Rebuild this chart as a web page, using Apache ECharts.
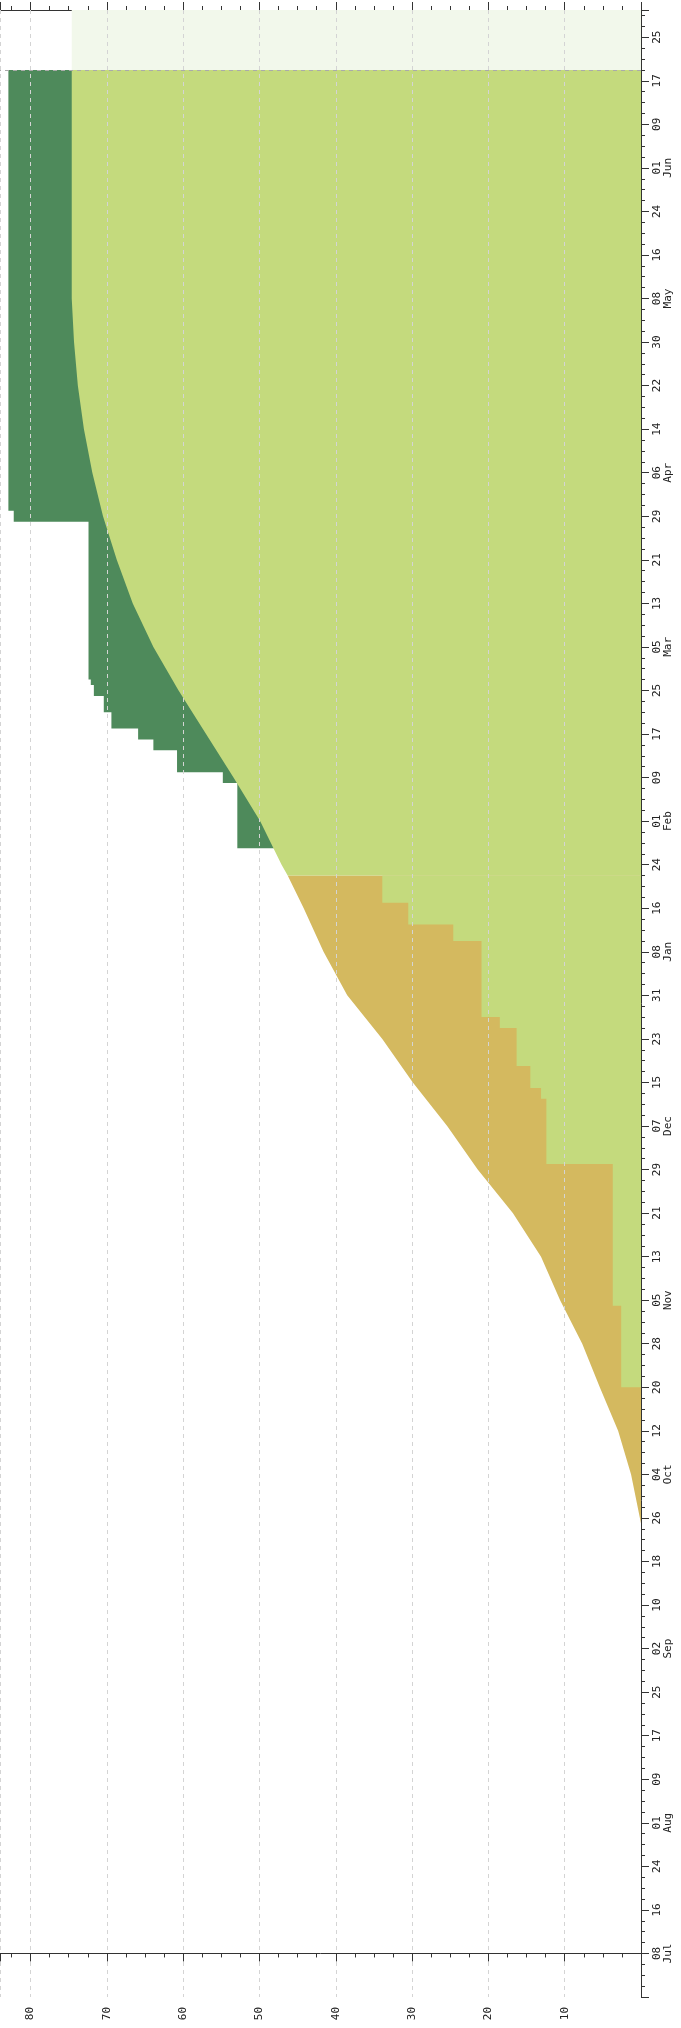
<!DOCTYPE html>
<html>
<head>
    <meta charset="utf-8">
    <title>Cumulative flow</title>
    <script src="https://cdn.jsdelivr.net/npm/echarts@6/dist/echarts.min.js"></script>
    <style type="text/css">
        html, body {
            margin: 0;
            padding: 0;
            background: #fff;
        }

        #chart {
            width: 681px;
            height: 2028px;
        }
    </style>
</head>
<body>
    <div id="chart"></div>
    <script>
        // day axis: day 0 = 08 Jul, labels every 8 days
        var axisStart = [2012, 6, 8];
        var monthNames = ['Jan', 'Feb', 'Mar', 'Apr', 'May', 'Jun', 'Jul', 'Aug', 'Sep', 'Oct', 'Nov', 'Dec'];
        var dayMin = -8, dayMax = 357;
        var valueMax = 84;

        // smooth edge (scope before Jan 22, finished work after)
        var smoothDates = ['2012-09-25', '2012-10-04', '2012-10-12', '2012-10-20', '2012-10-28', '2012-11-05',
            '2012-11-13', '2012-11-21', '2012-11-29', '2012-12-07', '2012-12-15', '2012-12-23', '2012-12-31',
            '2013-01-08', '2013-01-16', '2013-01-22', '2013-01-24', '2013-02-01', '2013-02-09', '2013-02-17',
            '2013-02-25', '2013-03-05', '2013-03-13', '2013-03-21', '2013-03-29', '2013-04-06', '2013-04-14',
            '2013-04-22', '2013-04-30', '2013-05-08', '2013-06-19'];
        var smoothValues = [0, 1.3, 3.0, 5.4, 7.7, 10.6,
            13.1, 16.8, 21.4, 25.4, 29.9, 33.9, 38.5,
            41.6, 44.2, 46.3, 47.1, 49.9, 53.4, 57.0,
            60.6, 63.9, 66.6, 68.7, 70.5, 71.9, 73.0,
            73.8, 74.3, 74.6, 74.6];
        var splitDate = '2013-01-22';

        // stepped finished work before Jan 22
        var doneDates = ['2012-10-20', '2012-11-04', '2012-11-30', '2012-12-12', '2012-12-14', '2012-12-18',
            '2012-12-25', '2012-12-27', '2013-01-10', '2013-01-13', '2013-01-17', '2013-01-22'];
        var doneValues = [2.6, 3.7, 12.4, 13.1, 14.5, 16.3,
            18.5, 20.9, 24.6, 30.5, 33.9, 33.9];

        // stepped total scope from Jan 27
        var totalDates = ['2013-01-27', '2013-02-08', '2013-02-10', '2013-02-14', '2013-02-16', '2013-02-18',
            '2013-02-21', '2013-02-24', '2013-02-26', '2013-02-27', '2013-03-28', '2013-03-30', '2013-06-19'];
        var totalValues = [52.9, 54.8, 60.8, 63.9, 65.9, 69.4,
            70.4, 71.7, 72.1, 72.4, 82.2, 82.9, 82.9];

        var todayDate = '2013-06-19';
        var futureValue = 74.6;

        function toTime(s) {
            var p = s.split('-');
            return new Date(+p[0], +p[1] - 1, +p[2]).getTime();
        }

        function pairs(dates, values, from, to) {
            var out = [];
            for (var i = 0; i < dates.length; i++) {
                if (from && dates[i] < from) continue;
                if (to && dates[i] > to) continue;
                out.push([values[i], toTime(dates[i])]);
            }
            return out;
        }

        function pad(n) {
            return (n < 10 ? '0' : '') + n;
        }

        function dayLabel(v) {
            var d = new Date(axisStart[0], axisStart[1], axisStart[2] + v);
            var s = pad(d.getDate());
            if (d.getDate() <= 8) s += '\n' + monthNames[d.getMonth()];
            return s;
        }

        var font = 'DejaVu Sans Mono';
        var axisColor = '#333';
        var gridColor = '#d4d4d4';

        var chart = echarts.init(document.getElementById('chart'));
        var option = {
            animation: false,
            grid: { left: 0, right: 40, top: 10, bottom: 31 },
            xAxis: [
                {
                    type: 'value', inverse: true, position: 'bottom', min: 0, max: valueMax, interval: 10, z: 5,
                    axisLine: { show: true, lineStyle: { color: axisColor } },
                    axisTick: { show: true, inside: false, length: 8, lineStyle: { color: axisColor } },
                    minorTick: { show: true, splitNumber: 4, length: 4, lineStyle: { color: axisColor } },
                    axisLabel: {
                        rotate: 90, margin: 10, color: '#222', fontFamily: font, fontSize: 11,
                        showMinLabel: false, showMaxLabel: false
                    },
                    splitLine: { show: true, lineStyle: { color: gridColor, type: [4, 4] } }
                },
                {
                    type: 'value', inverse: true, position: 'top', min: 0, max: valueMax, interval: 10,
                    axisLine: { show: true, lineStyle: { color: axisColor } },
                    axisTick: { show: true, length: 8, lineStyle: { color: axisColor } },
                    minorTick: { show: true, splitNumber: 4, length: 4, lineStyle: { color: axisColor } },
                    axisLabel: { show: false },
                    splitLine: { show: false }
                }
            ],
            yAxis: [
                {
                    type: 'value', position: 'right', min: dayMin, max: dayMax, interval: 8, z: 5,
                    axisLine: { show: true, lineStyle: { color: axisColor } },
                    axisTick: { show: true, length: 8, lineStyle: { color: axisColor } },
                    minorTick: { show: true, splitNumber: 4, length: 4, lineStyle: { color: axisColor } },
                    axisLabel: {
                        rotate: 90, margin: 11, color: '#222', fontFamily: font, fontSize: 11, lineHeight: 11,
                        showMinLabel: false, showMaxLabel: false,
                        formatter: dayLabel
                    },
                    splitLine: { show: false }
                },
                {
                    type: 'time', show: false,
                    min: toTime('2012-06-30'), max: toTime('2013-06-30')
                }
            ],
            series: [
                {
                    name: 'Total', type: 'line', xAxisIndex: 0, yAxisIndex: 1, step: 'end',
                    showSymbol: false, lineStyle: { width: 0 },
                    areaStyle: { color: '#4e8a5b', opacity: 1 },
                    data: pairs(totalDates, totalValues)
                },
                {
                    name: 'In progress', type: 'line', xAxisIndex: 0, yAxisIndex: 1,
                    showSymbol: false, lineStyle: { width: 0 },
                    areaStyle: { color: '#d4b95f', opacity: 1 },
                    data: pairs(smoothDates, smoothValues, null, splitDate)
                },
                {
                    name: 'Done', type: 'line', xAxisIndex: 0, yAxisIndex: 1,
                    showSymbol: false, lineStyle: { width: 0 },
                    areaStyle: { color: '#c4da7d', opacity: 1 },
                    data: pairs(smoothDates, smoothValues, splitDate, null),
                    markArea: {
                        silent: true,
                        itemStyle: { color: '#f2f8eb' },
                        data: [[{ coord: [0, toTime(todayDate)] }, { coord: [futureValue, toTime('2013-06-30')] }]]
                    },
                    markLine: {
                        silent: true, symbol: 'none', label: { show: false },
                        lineStyle: { color: '#aaa', type: [4, 4], width: 1 },
                        data: [{ yAxis: toTime(todayDate) }]
                    }
                },
                {
                    name: 'Done early', type: 'line', xAxisIndex: 0, yAxisIndex: 1, step: 'end',
                    showSymbol: false, lineStyle: { width: 0 },
                    areaStyle: { color: '#c4da7d', opacity: 1 },
                    data: pairs(doneDates, doneValues)
                }
            ]
        };
        chart.setOption(option);
    </script>
</body>
</html>
